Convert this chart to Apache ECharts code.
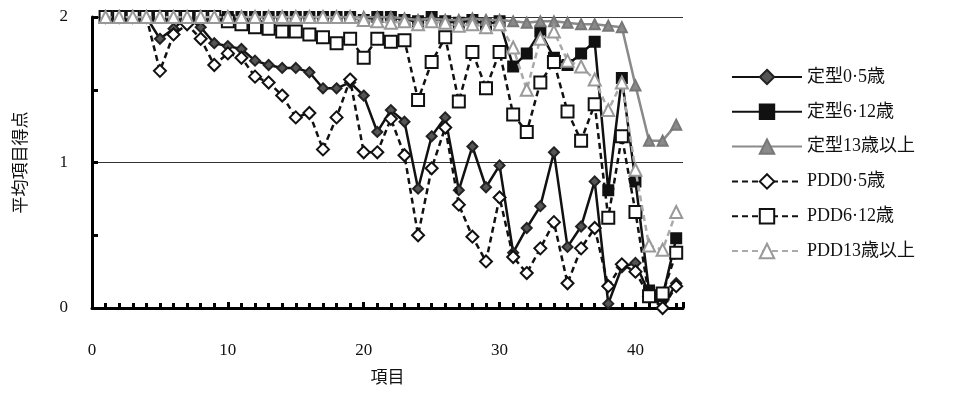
<!DOCTYPE html>
<html><head><meta charset="utf-8">
<script src="https://cdn.jsdelivr.net/npm/echarts@6/dist/echarts.min.js"></script>
<style>html,body{margin:0;padding:0;background:#fff}#c{width:957px;height:410px}</style>
</head><body><div id="c"></div>
<script>
const items = [1,2,3,4,5,6,7,8,9,10,11,12,13,14,15,16,17,18,19,20,21,22,23,24,25,26,27,28,29,30,31,32,33,34,35,36,37,38,39,40,41,42,43];
const seriesNames = ['定型0·5歳','定型6·12歳','定型13歳以上','PDD0·5歳','PDD6·12歳','PDD13歳以上'];
const teikei05 = [2,2,2,2,1.85,1.92,2,1.93,1.82,1.8, 1.78,1.7,1.67,1.65,1.65,1.62,1.51,1.51,1.55,1.46, 1.21,1.36,1.28,0.82,1.18,1.31,0.81,1.11,0.83,0.98, 0.38,0.55,0.70,1.07,0.42,0.56,0.87,0.03,0.28,0.31, 0.1,0.0,0.17];
const teikei612 = [2,2,2,2,2,2,2,2,2,2, 2,2,2,2,2,2,2,2,2,1.98, 2,2,1.98,1.97,2,1.97,1.96,1.98,1.95,1.97, 1.66,1.75,1.9,1.72,1.67,1.75,1.83,0.81,1.58,0.87, 0.12,0.08,0.48];
const teikei13 = [2,2,2,2,2,2,2,2,2,2, 2,2,2,2,2,2,2,2,2,2, 2,2,1.99,1.98,1.99,1.98,1.98,1.99,1.98,1.98, 1.97,1.96,1.97,1.97,1.96,1.95,1.95,1.94,1.93,1.53, 1.15,1.15,1.26];
const pdd05 = [2,2,2,2,1.63,1.88,1.95,1.85,1.67,1.75, 1.72,1.59,1.55,1.46,1.31,1.34,1.09,1.31,1.57,1.07, 1.07,1.3,1.05,0.50,0.96,1.24,0.71,0.49,0.32,0.76, 0.35,0.24,0.41,0.59,0.17,0.41,0.55,0.15,0.3,0.25, 0.08,0.0,0.15];
const pdd612 = [2,2,2,2,2,2,2,2,2,1.97, 1.95,1.93,1.92,1.90,1.90,1.88,1.86,1.82,1.85,1.72, 1.85,1.83,1.84,1.43,1.69,1.86,1.42,1.76,1.51,1.76, 1.33,1.21,1.55,1.69,1.35,1.15,1.40,0.62,1.18,0.66, 0.08,0.10,0.38];
const pdd13 = [2,2,2,2,2,2,2,2,2,2, 2,2,2,2,2,2,2,2,2,1.98, 1.97,1.96,1.97,1.95,1.97,1.96,1.94,1.95,1.93,1.95, 1.79,1.50,1.85,1.9,1.70,1.66,1.57,1.36,1.55,0.95, 0.43,0.40,0.66];
const xTicks = [0,10,20,30,40];
const yTicks = [0,1,2];

const allValues = [teikei05, teikei612, teikei13, pdd05, pdd612, pdd13];
const styles = [
  {sym:'diamond', size:10, lineColor:'#111', fill:'#555', border:'#222', type:'solid', lw:2.5},
  {sym:'rect', size:10, lineColor:'#111', fill:'#111', border:'#111', type:'solid', lw:2.5},
  {sym:'triangle', size:10, lineColor:'#8a8a8a', fill:'#8a8a8a', border:'#777', type:'solid', lw:2.5},
  {sym:'diamond', size:12, lineColor:'#111', fill:'#fff', border:'#111', type:[6,4], lw:2.5},
  {sym:'rect', size:12, lineColor:'#111', fill:'#fff', border:'#111', type:[6,4], lw:2.5},
  {sym:'triangle', size:12, lineColor:'#aaa', fill:'#fff', border:'#999', type:[6,4], lw:2.5}
];
const font = "'Liberation Serif','Noto Sans CJK JP',serif";
const series = allValues.map((vals, k) => ({
  name: seriesNames[k],
  type: 'line',
  data: items.map((x, i) => [x, vals[i]]),
  symbol: styles[k].sym,
  symbolSize: styles[k].size,
  showAllSymbol: true,
  lineStyle: {color: styles[k].lineColor, width: styles[k].lw, type: styles[k].type},
  itemStyle: {color: styles[k].fill, borderColor: styles[k].border, borderWidth: 2},
  z: 2 + k
}));

const chart = echarts.init(document.getElementById('c'), null, {renderer:'canvas'});
chart.setOption({
  animation: false,
  backgroundColor: '#fff',
  grid: {left: 92, right: 274, top: 17, bottom: 102, containLabel: false},
  legend: {
    orient: 'vertical', left: 726, top: 63, itemGap: 16.8,
    itemWidth: 70, itemHeight: 18,
    textStyle: {fontFamily: font, fontSize: 18, color: '#111'},
    data: seriesNames
  },
  xAxis: {
    type: 'value', min: 0, max: 43.5, interval: 10,
    name: '項目', nameLocation: 'middle', nameGap: 62,
    nameTextStyle: {fontFamily: font, fontSize: 17, color: '#111'},
    axisLine: {lineStyle: {color: '#000', width: 3}},
    axisTick: {inside: true, length: 6, lineStyle: {color: '#000', width: 3}},
    minorTick: {show: true, splitNumber: 10, length: 5, lineStyle: {color: '#000', width: 3}},
    axisLabel: {fontFamily: font, fontSize: 17, color: '#111', margin: 34,
      formatter: v => xTicks.includes(v) ? String(v) : ''},
    splitLine: {show: false}
  },
  yAxis: {
    type: 'value', min: 0, max: 2, interval: 1,
    name: '平均項目得点', nameLocation: 'middle', nameGap: 62, nameRotate: 90,
    nameTextStyle: {fontFamily: font, fontSize: 17, color: '#111'},
    axisLine: {show: true, lineStyle: {color: '#000', width: 3}},
    axisTick: {show: true, inside: true, length: 6, lineStyle: {color: '#000', width: 3}},
    minorTick: {show: true, splitNumber: 2, length: 6, lineStyle: {color: '#000', width: 3}},
    axisLabel: {fontFamily: font, fontSize: 17, color: '#111', margin: 24,
      formatter: v => yTicks.includes(v) ? String(v) : ''},
    splitLine: {show: true, lineStyle: {color: '#333', width: 1}}
  },
  series: series
});
</script></body></html>
